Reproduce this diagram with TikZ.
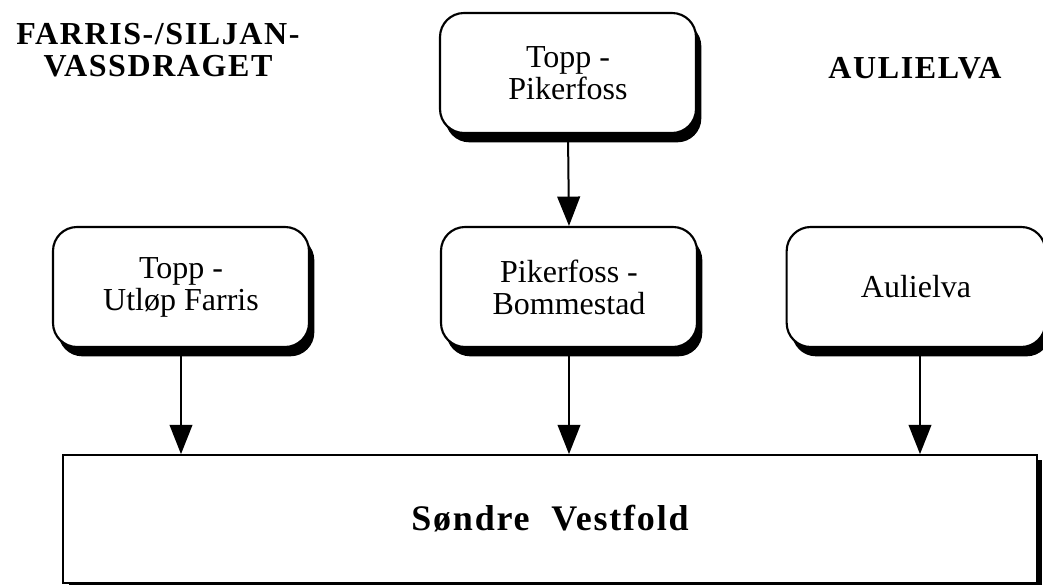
\documentclass[tikz,border=0pt]{standalone}
\usepackage{fontspec}
\setmainfont{Liberation Serif}
\newfontfamily\regionfont[LetterSpace=5]{Liberation Serif}
\newfontfamily\sumfont[LetterSpace=5]{Liberation Serif}
\usetikzlibrary{arrows.meta,shadows}

\begin{document}
\begin{tikzpicture}[x=0.75pt,y=-0.75pt,
    stretch/.style={draw,line width=1.6pt,fill=white,rounded corners=18pt,
        minimum width=192pt,minimum height=90pt,inner sep=0pt,align=center,
        font=\fontsize{24}{24}\selectfont,
        drop shadow={shadow xshift=4pt,shadow yshift=-7pt,fill=black,opacity=1}},
    region/.style={align=center,font=\regionfont\bfseries\fontsize{24}{24}\selectfont},
    flow/.style={line width=1.5pt,-{Triangle[length=22pt,width=17pt]}}]

    \useasboundingbox (0,0) rectangle (1043,585);

    % vassdrag
    \node[region] (farrishead) at (158,50) {FARRIS-/SILJAN-\\VASSDRAGET};
    \node[region] (aulhead) at (915,68) {AULIELVA};

    % strekninger
    \node[stretch] (topp) at (568,73) {Topp -\\Pikerfoss};
    \node[stretch] (farris) at (181,287) {Topp -\\Utl\o p Farris};
    \node[stretch] (bom) at (569,287) {Pikerfoss -\\Bommestad};
    \node[stretch,minimum width=194pt] (aul) at (916,287) {Aulielva};

    \node[draw,line width=1.3pt,fill=white,minimum width=730pt,minimum height=96pt,
        drop shadow={shadow xshift=4pt,shadow yshift=-4pt,fill=black,opacity=1},
        font=\sumfont\bfseries\fontsize{27}{28}\selectfont] (sv) at (550,519) {S\o ndre\ \ Vestfold};

    \draw[flow] (topp.south) -- (bom.north);
    \draw[flow] (farris.south) -- (farris.south |- sv.north);
    \draw[flow] (bom.south) -- (bom.south |- sv.north);
    \draw[flow] ([xshift=3pt]aul.south) -- ([xshift=3pt]aul.south |- sv.north);
\end{tikzpicture}
\end{document}
